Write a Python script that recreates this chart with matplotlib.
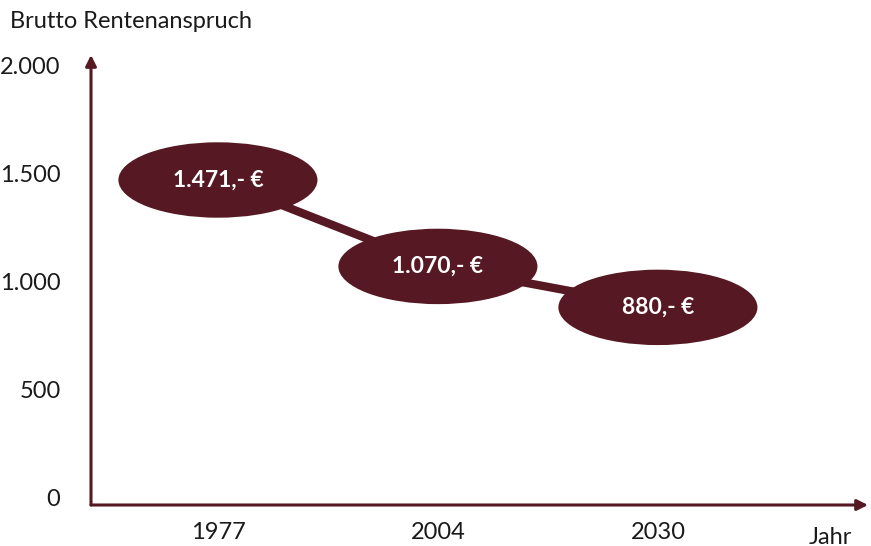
import matplotlib
matplotlib.use("Agg")
import matplotlib.pyplot as plt
from matplotlib.patches import Ellipse

# data
years = ["1977", "2004", "2030"]
rente = [1471, 1070, 880]
labels = ["1.471,- €", "1.070,- €", "880,- €"]
yticks = [0, 500, 1000, 1500, 2000]
yticklabels = ["0", "500", "1.000", "1.500", "2.000"]

dark = "#561923"
font = ["Lato", "DejaVu Sans"]

fig = plt.figure(figsize=(8.71, 5.46), dpi=100)
ax = fig.add_axes([91 / 871, 41 / 546, 777 / 871, 450 / 546])

x = list(range(len(years)))
ax.set_xlim(-0.577, 2.955)
ax.set_ylim(-37, 2051)

# connecting line
ax.plot(x, rente, color=dark, lw=6, solid_capstyle="butt", zorder=2)

# ellipses with the values
for xi, yi, lab in zip(x, rente, labels):
    e = Ellipse((xi, yi), width=0.905, height=350, facecolor=dark,
                edgecolor="none", zorder=3)
    ax.add_patch(e)
    ax.text(xi, yi, lab, color="white", fontsize=16.5, fontweight="bold",
            family=font, ha="center", va="center", zorder=4)

# axes as arrows
for sp in ax.spines.values():
    sp.set_visible(False)
ax.annotate("", xy=(1.0, 0), xytext=(0, 0), xycoords="axes fraction",
            arrowprops=dict(arrowstyle="-|>", color=dark, lw=2.2,
                            mutation_scale=16, shrinkA=0, shrinkB=0))
ax.annotate("", xy=(0, 1.0), xytext=(0, 0), xycoords="axes fraction",
            arrowprops=dict(arrowstyle="-|>", color=dark, lw=2.2,
                            mutation_scale=16, shrinkA=0, shrinkB=0))

ax.set_xticks(x)
ax.set_xticklabels(years, family=font, fontsize=17, color="#1a1a1a")
ax.set_yticks(yticks)
ax.set_yticklabels(yticklabels, family=font, fontsize=17, color="#1a1a1a")
ax.tick_params(axis="both", length=0)
ax.tick_params(axis="y", pad=22)
ax.tick_params(axis="x", pad=12)

fig.text(10 / 871, 1 - 22 / 546, "Brutto Rentenanspruch", family=font,
         fontsize=17, color="#1a1a1a", va="center", ha="left")
fig.text(830 / 871, 1 - 537 / 546, "Jahr", family=font,
         fontsize=17, color="#1a1a1a", va="center", ha="center")

fig.savefig("out.png", dpi=100)
